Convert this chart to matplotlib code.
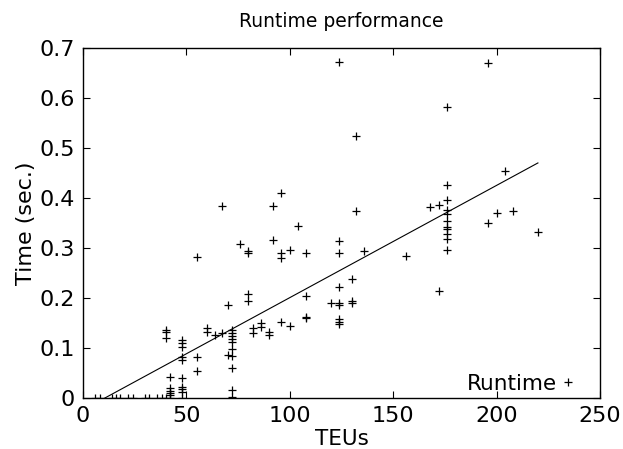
#!/usr/bin/env python3
"""
Runtime performance scatter (TEUs vs time) with linear fit
"""

import numpy as np
import matplotlib
matplotlib.use('Agg')
import matplotlib.pyplot as plt

# 数据：TEU数量与运行时间（秒）
teus = [6, 8, 14, 16, 18, 22, 24, 30, 32, 36, 38, 40, 42, 48,
        40, 40, 40,
        42, 42, 42, 42, 42,
        48, 48, 48, 48, 48, 48, 48, 48, 48,
        55, 55, 55,
        60, 60, 64, 67, 67, 70, 70,
        72, 72, 72, 72, 72, 72, 72, 72, 72, 72,
        76, 80, 80, 80, 80, 82, 82, 86, 86, 90, 90, 92, 92,
        96, 96, 96, 96, 100, 100, 104, 108, 108, 108, 108, 120,
        124, 124, 124, 124, 124, 124, 124, 124, 124,
        130, 130, 130, 132, 132, 136, 156, 168, 172, 172,
        176, 176, 176, 176, 176, 176, 176, 176, 176, 176, 176,
        196, 196, 200, 204, 208, 220]
times = [0, 0, 0, 0, 0, 0, 0, 0, 0, 0, 0, 0, 0, 0,
         0.136, 0.132, 0.12,
         0.042, 0.02, 0.014, 0.01, 0.006,
         0.116, 0.11, 0.102, 0.082, 0.076, 0.04, 0.022, 0.018, 0.012,
         0.282, 0.082, 0.054,
         0.14, 0.132, 0.126, 0.384, 0.13, 0.186, 0.086,
         0.136, 0.13, 0.124, 0.118, 0.112, 0.098, 0.084, 0.06, 0.016, 0.002,
         0.308, 0.294, 0.29, 0.208, 0.194, 0.14, 0.13, 0.15, 0.142, 0.132, 0.126, 0.384, 0.316,
         0.41, 0.29, 0.28, 0.152, 0.296, 0.144, 0.344, 0.29, 0.204, 0.162, 0.16, 0.19,
         0.672, 0.314, 0.29, 0.222, 0.19, 0.186, 0.158, 0.152, 0.148,
         0.238, 0.194, 0.19, 0.524, 0.374, 0.294, 0.284, 0.382, 0.386, 0.214,
         0.582, 0.426, 0.396, 0.376, 0.368, 0.354, 0.342, 0.338, 0.328, 0.318, 0.296,
         0.67, 0.35, 0.37, 0.454, 0.374, 0.332]

# 线性拟合参数
fit_slope = 0.002245
fit_intercept = -0.0238

x_ticks = [0, 50, 100, 150, 200, 250]
y_ticks = [0, 0.1, 0.2, 0.3, 0.4, 0.5, 0.6, 0.7]

fig = plt.figure(figsize=(6.23, 4.49), dpi=100)
ax = fig.add_axes([0.1332, 0.1136, 0.8298, 0.7795])

ax.plot(teus, times, '+', color='black', markersize=5.5, markeredgewidth=0.9,
        label='Runtime')

fit_x = np.array([min(teus), max(teus)])
ax.plot(fit_x, fit_slope * fit_x + fit_intercept, '-', color='black', linewidth=0.8)

ax.set_xlim(0, 250)
ax.set_ylim(0, 0.7)
ax.set_xticks(x_ticks)
ax.set_yticks(y_ticks)
ax.set_xticklabels([str(t) for t in x_ticks])
ax.set_yticklabels(['0'] + [f'{t:.1f}' for t in y_ticks[1:]])
ax.tick_params(direction='in', top=True, right=True, length=5, width=0.8,
               labelsize=16, pad=6)
for s in ax.spines.values():
    s.set_linewidth(1.0)

ax.set_title('Runtime performance', fontsize=13.5, pad=15)
ax.set_xlabel('TEUs', fontsize=15.5, labelpad=2)
ax.set_ylabel('Time (sec.)', fontsize=16, labelpad=2)

ax.legend(loc='lower right', bbox_to_anchor=(0.963, 0.0), frameon=False,
          markerfirst=False, fontsize=15.5, handlelength=0.8, handletextpad=0.1,
          borderaxespad=0.0, borderpad=0.2)

fig.savefig('out.png', dpi=100)
